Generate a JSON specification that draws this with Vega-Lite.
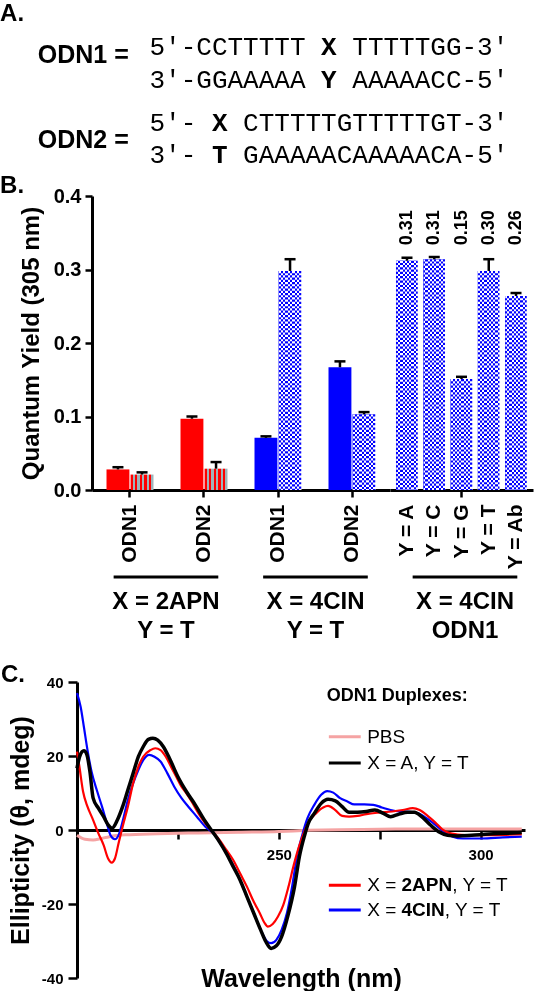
{
  "$schema": "https://vega.github.io/schema/vega-lite/v6.json",
  "background": "white",
  "padding": 0,
  "spacing": 0,
  "bounds": "flush",
  "resolve": {"scale": {"color": "independent"}},
  "config": {
    "view": {"stroke": null},
    "font": "Liberation Sans",
    "axis": {"grid": false, "domainColor": "#000", "tickColor": "#000", "labelColor": "#000", "titleColor": "#000", "labelFont": "Liberation Sans", "titleFont": "Liberation Sans", "labelFontWeight": "bold", "titleFontWeight": "bold"},
    "title": {"font": "Liberation Sans", "fontSize": 24, "fontWeight": "bold", "color": "#000", "anchor": "start", "frame": "group"}
  },
  "datasets": {
    "sequences": [
      {"duplex": "ODN1", "strand": "top", "column": 0, "text": "5′-CCTTTTT", "weight": "normal"},
      {"duplex": "ODN1", "strand": "top", "column": 11, "text": "X", "weight": "bold"},
      {"duplex": "ODN1", "strand": "top", "column": 13, "text": "TTTTTGG-3′", "weight": "normal"},
      {"duplex": "ODN1", "strand": "bottom", "column": 0, "text": "3′-GGAAAAA", "weight": "normal"},
      {"duplex": "ODN1", "strand": "bottom", "column": 11, "text": "Y", "weight": "bold"},
      {"duplex": "ODN1", "strand": "bottom", "column": 13, "text": "AAAAACC-5′", "weight": "normal"},
      {"duplex": "ODN2", "strand": "top", "column": 0, "text": "5′-", "weight": "normal"},
      {"duplex": "ODN2", "strand": "top", "column": 4, "text": "X", "weight": "bold"},
      {"duplex": "ODN2", "strand": "top", "column": 6, "text": "CTTTTTGTTTTTGT-3′", "weight": "normal"},
      {"duplex": "ODN2", "strand": "bottom", "column": 0, "text": "3′-", "weight": "normal"},
      {"duplex": "ODN2", "strand": "bottom", "column": 4, "text": "T", "weight": "bold"},
      {"duplex": "ODN2", "strand": "bottom", "column": 6, "text": "GAAAAACAAAAACA-5′", "weight": "normal"}
    ],
    "labels": [
      {"duplex": "ODN1", "label": "ODN1 ="},
      {"duplex": "ODN2", "label": "ODN2 ="}
    ],
    "panels": [
      {"panel": "A."},
      {"panel": "B."}
    ],
    "pairs": [
      {"construct": "2APN|ODN1", "probe": "2APN", "form": "single", "qy": 0.028, "upper": 0.031},
      {"construct": "2APN|ODN1", "probe": "2APN", "form": "duplex", "qy": 0.021, "upper": 0.024},
      {"construct": "2APN|ODN2", "probe": "2APN", "form": "single", "qy": 0.097, "upper": 0.100},
      {"construct": "2APN|ODN2", "probe": "2APN", "form": "duplex", "qy": 0.029, "upper": 0.038},
      {"construct": "4CIN|ODN1", "probe": "4CIN", "form": "single", "qy": 0.071, "upper": 0.073},
      {"construct": "4CIN|ODN1", "probe": "4CIN", "form": "duplex", "qy": 0.298, "upper": 0.314},
      {"construct": "4CIN|ODN2", "probe": "4CIN", "form": "single", "qy": 0.167, "upper": 0.175},
      {"construct": "4CIN|ODN2", "probe": "4CIN", "form": "duplex", "qy": 0.103, "upper": 0.106}
    ],
    "bases": [
      {"base": "A", "qy": 0.312, "upper": 0.316},
      {"base": "C", "qy": 0.314, "upper": 0.317},
      {"base": "G", "qy": 0.151, "upper": 0.154},
      {"base": "T", "qy": 0.298, "upper": 0.314},
      {"base": "Ab", "qy": 0.264, "upper": 0.268}
    ],
    "groups": [
      {"set": "2APN", "part": "rule"},
      {"set": "2APN", "part": "line1", "text": "X = 2APN"},
      {"set": "2APN", "part": "line2", "text": "Y = T"},
      {"set": "4CIN", "part": "rule"},
      {"set": "4CIN", "part": "line1", "text": "X = 4CIN"},
      {"set": "4CIN", "part": "line2", "text": "Y = T"},
      {"set": "4CIN-ODN1", "part": "rule"},
      {"set": "4CIN-ODN1", "part": "line1", "text": "X = 4CIN"},
      {"set": "4CIN-ODN1", "part": "line2", "text": "ODN1"}
    ],
    "spectra": [
      {"series": "PBS", "wavelength": 200, "ellipticity": -1.4},
      {"series": "PBS", "wavelength": 202, "ellipticity": -2.5},
      {"series": "PBS", "wavelength": 204, "ellipticity": -2.7},
      {"series": "PBS", "wavelength": 206, "ellipticity": -2.3},
      {"series": "PBS", "wavelength": 208, "ellipticity": -1.8},
      {"series": "PBS", "wavelength": 212, "ellipticity": -1.3},
      {"series": "PBS", "wavelength": 220, "ellipticity": -1.0},
      {"series": "PBS", "wavelength": 230, "ellipticity": -0.8},
      {"series": "PBS", "wavelength": 240, "ellipticity": -0.6},
      {"series": "PBS", "wavelength": 250, "ellipticity": -0.4},
      {"series": "PBS", "wavelength": 257, "ellipticity": -0.1},
      {"series": "PBS", "wavelength": 265, "ellipticity": 0.1},
      {"series": "PBS", "wavelength": 275, "ellipticity": 0.2},
      {"series": "PBS", "wavelength": 285, "ellipticity": 0.3},
      {"series": "PBS", "wavelength": 295, "ellipticity": 0.3},
      {"series": "PBS", "wavelength": 305, "ellipticity": 0.3},
      {"series": "PBS", "wavelength": 310.2, "ellipticity": 0.3},
      {"series": "4CIN", "wavelength": 200.0, "ellipticity": 37.0},
      {"series": "4CIN", "wavelength": 200.9, "ellipticity": 33.3},
      {"series": "4CIN", "wavelength": 201.7, "ellipticity": 27.9},
      {"series": "4CIN", "wavelength": 202.6, "ellipticity": 21.6},
      {"series": "4CIN", "wavelength": 203.6, "ellipticity": 15.8},
      {"series": "4CIN", "wavelength": 204.9, "ellipticity": 10.8},
      {"series": "4CIN", "wavelength": 206.2, "ellipticity": 6.3},
      {"series": "4CIN", "wavelength": 207.4, "ellipticity": 1.8},
      {"series": "4CIN", "wavelength": 208.3, "ellipticity": -1.4},
      {"series": "4CIN", "wavelength": 209.4, "ellipticity": -2.5},
      {"series": "4CIN", "wavelength": 210.4, "ellipticity": -1.1},
      {"series": "4CIN", "wavelength": 211.5, "ellipticity": 3.2},
      {"series": "4CIN", "wavelength": 212.6, "ellipticity": 8.1},
      {"series": "4CIN", "wavelength": 213.9, "ellipticity": 12.6},
      {"series": "4CIN", "wavelength": 215.2, "ellipticity": 16.2},
      {"series": "4CIN", "wavelength": 216.4, "ellipticity": 18.9},
      {"series": "4CIN", "wavelength": 217.9, "ellipticity": 20.3},
      {"series": "4CIN", "wavelength": 219.2, "ellipticity": 19.8},
      {"series": "4CIN", "wavelength": 220.7, "ellipticity": 18.5},
      {"series": "4CIN", "wavelength": 222.4, "ellipticity": 15.3},
      {"series": "4CIN", "wavelength": 224.1, "ellipticity": 11.7},
      {"series": "4CIN", "wavelength": 225.9, "ellipticity": 8.6},
      {"series": "4CIN", "wavelength": 227.6, "ellipticity": 6.3},
      {"series": "4CIN", "wavelength": 229.7, "ellipticity": 3.6},
      {"series": "4CIN", "wavelength": 231.8, "ellipticity": 0.9},
      {"series": "4CIN", "wavelength": 233.6, "ellipticity": -0.7},
      {"series": "4CIN", "wavelength": 235.3, "ellipticity": -3.2},
      {"series": "4CIN", "wavelength": 237.0, "ellipticity": -6.3},
      {"series": "4CIN", "wavelength": 238.7, "ellipticity": -9.5},
      {"series": "4CIN", "wavelength": 240.4, "ellipticity": -13.5},
      {"series": "4CIN", "wavelength": 242.1, "ellipticity": -18.0},
      {"series": "4CIN", "wavelength": 243.8, "ellipticity": -22.5},
      {"series": "4CIN", "wavelength": 245.5, "ellipticity": -27.0},
      {"series": "4CIN", "wavelength": 247.0, "ellipticity": -30.0},
      {"series": "4CIN", "wavelength": 248.1, "ellipticity": -30.6},
      {"series": "4CIN", "wavelength": 249.4, "ellipticity": -29.7},
      {"series": "4CIN", "wavelength": 250.7, "ellipticity": -27.0},
      {"series": "4CIN", "wavelength": 252.0, "ellipticity": -22.5},
      {"series": "4CIN", "wavelength": 253.3, "ellipticity": -15.3},
      {"series": "4CIN", "wavelength": 254.5, "ellipticity": -7.2},
      {"series": "4CIN", "wavelength": 255.8, "ellipticity": -1.4},
      {"series": "4CIN", "wavelength": 257.1, "ellipticity": 3.2},
      {"series": "4CIN", "wavelength": 258.8, "ellipticity": 6.8},
      {"series": "4CIN", "wavelength": 260.5, "ellipticity": 9.5},
      {"series": "4CIN", "wavelength": 262.0, "ellipticity": 10.5},
      {"series": "4CIN", "wavelength": 263.5, "ellipticity": 10.1},
      {"series": "4CIN", "wavelength": 265.2, "ellipticity": 8.6},
      {"series": "4CIN", "wavelength": 267.0, "ellipticity": 7.7},
      {"series": "4CIN", "wavelength": 268.7, "ellipticity": 6.9},
      {"series": "4CIN", "wavelength": 271.2, "ellipticity": 6.9},
      {"series": "4CIN", "wavelength": 273.4, "ellipticity": 6.8},
      {"series": "4CIN", "wavelength": 275.5, "ellipticity": 6.1},
      {"series": "4CIN", "wavelength": 277.7, "ellipticity": 5.4},
      {"series": "4CIN", "wavelength": 279.8, "ellipticity": 5.0},
      {"series": "4CIN", "wavelength": 282.4, "ellipticity": 4.9},
      {"series": "4CIN", "wavelength": 284.5, "ellipticity": 4.5},
      {"series": "4CIN", "wavelength": 286.6, "ellipticity": 3.2},
      {"series": "4CIN", "wavelength": 288.8, "ellipticity": 1.4},
      {"series": "4CIN", "wavelength": 290.9, "ellipticity": -0.5},
      {"series": "4CIN", "wavelength": 293.1, "ellipticity": -1.8},
      {"series": "4CIN", "wavelength": 295.6, "ellipticity": -2.3},
      {"series": "4CIN", "wavelength": 300.3, "ellipticity": -2.3},
      {"series": "4CIN", "wavelength": 305.5, "ellipticity": -2.0},
      {"series": "4CIN", "wavelength": 310.2, "ellipticity": -1.8},
      {"series": "2APN", "wavelength": 200.0, "ellipticity": 21.2},
      {"series": "2APN", "wavelength": 200.6, "ellipticity": 17.1},
      {"series": "2APN", "wavelength": 201.5, "ellipticity": 10.4},
      {"series": "2APN", "wavelength": 202.6, "ellipticity": 6.3},
      {"series": "2APN", "wavelength": 203.8, "ellipticity": 3.2},
      {"series": "2APN", "wavelength": 205.3, "ellipticity": -0.9},
      {"series": "2APN", "wavelength": 206.6, "ellipticity": -4.1},
      {"series": "2APN", "wavelength": 207.7, "ellipticity": -7.7},
      {"series": "2APN", "wavelength": 208.6, "ellipticity": -8.8},
      {"series": "2APN", "wavelength": 209.4, "ellipticity": -7.7},
      {"series": "2APN", "wavelength": 210.3, "ellipticity": -3.6},
      {"series": "2APN", "wavelength": 211.3, "ellipticity": 0.9},
      {"series": "2APN", "wavelength": 212.6, "ellipticity": 6.3},
      {"series": "2APN", "wavelength": 213.9, "ellipticity": 12.6},
      {"series": "2APN", "wavelength": 215.2, "ellipticity": 17.1},
      {"series": "2APN", "wavelength": 216.4, "ellipticity": 19.8},
      {"series": "2APN", "wavelength": 218.2, "ellipticity": 21.6},
      {"series": "2APN", "wavelength": 219.4, "ellipticity": 22.1},
      {"series": "2APN", "wavelength": 220.7, "ellipticity": 21.6},
      {"series": "2APN", "wavelength": 222.0, "ellipticity": 19.8},
      {"series": "2APN", "wavelength": 223.3, "ellipticity": 17.1},
      {"series": "2APN", "wavelength": 224.6, "ellipticity": 14.4},
      {"series": "2APN", "wavelength": 225.9, "ellipticity": 11.7},
      {"series": "2APN", "wavelength": 227.1, "ellipticity": 9.9},
      {"series": "2APN", "wavelength": 228.4, "ellipticity": 7.7},
      {"series": "2APN", "wavelength": 230.1, "ellipticity": 4.5},
      {"series": "2APN", "wavelength": 231.8, "ellipticity": 1.8},
      {"series": "2APN", "wavelength": 233.6, "ellipticity": -0.5},
      {"series": "2APN", "wavelength": 235.3, "ellipticity": -2.7},
      {"series": "2APN", "wavelength": 237.0, "ellipticity": -5.4},
      {"series": "2APN", "wavelength": 238.7, "ellipticity": -8.1},
      {"series": "2APN", "wavelength": 240.4, "ellipticity": -11.7},
      {"series": "2APN", "wavelength": 242.1, "ellipticity": -15.3},
      {"series": "2APN", "wavelength": 243.8, "ellipticity": -19.4},
      {"series": "2APN", "wavelength": 245.3, "ellipticity": -22.5},
      {"series": "2APN", "wavelength": 246.4, "ellipticity": -25.0},
      {"series": "2APN", "wavelength": 247.3, "ellipticity": -26.1},
      {"series": "2APN", "wavelength": 248.5, "ellipticity": -25.4},
      {"series": "2APN", "wavelength": 249.8, "ellipticity": -23.4},
      {"series": "2APN", "wavelength": 251.1, "ellipticity": -20.3},
      {"series": "2APN", "wavelength": 252.4, "ellipticity": -15.3},
      {"series": "2APN", "wavelength": 253.7, "ellipticity": -9.5},
      {"series": "2APN", "wavelength": 255.0, "ellipticity": -4.5},
      {"series": "2APN", "wavelength": 256.3, "ellipticity": -0.5},
      {"series": "2APN", "wavelength": 257.5, "ellipticity": 2.3},
      {"series": "2APN", "wavelength": 259.2, "ellipticity": 4.5},
      {"series": "2APN", "wavelength": 261.0, "ellipticity": 6.1},
      {"series": "2APN", "wavelength": 262.2, "ellipticity": 6.5},
      {"series": "2APN", "wavelength": 264.0, "ellipticity": 5.4},
      {"series": "2APN", "wavelength": 265.7, "ellipticity": 3.8},
      {"series": "2APN", "wavelength": 267.4, "ellipticity": 3.6},
      {"series": "2APN", "wavelength": 269.5, "ellipticity": 3.8},
      {"series": "2APN", "wavelength": 271.7, "ellipticity": 4.3},
      {"series": "2APN", "wavelength": 274.7, "ellipticity": 4.7},
      {"series": "2APN", "wavelength": 278.1, "ellipticity": 5.0},
      {"series": "2APN", "wavelength": 280.7, "ellipticity": 5.4},
      {"series": "2APN", "wavelength": 283.2, "ellipticity": 5.9},
      {"series": "2APN", "wavelength": 284.9, "ellipticity": 5.4},
      {"series": "2APN", "wavelength": 287.1, "ellipticity": 3.6},
      {"series": "2APN", "wavelength": 288.8, "ellipticity": 2.0},
      {"series": "2APN", "wavelength": 290.5, "ellipticity": 0.2},
      {"series": "2APN", "wavelength": 292.6, "ellipticity": -0.9},
      {"series": "2APN", "wavelength": 296.1, "ellipticity": -1.4},
      {"series": "2APN", "wavelength": 300.3, "ellipticity": -1.4},
      {"series": "2APN", "wavelength": 305.5, "ellipticity": -1.3},
      {"series": "2APN", "wavelength": 310.2, "ellipticity": -1.1},
      {"series": "A", "wavelength": 200.0, "ellipticity": 16.7},
      {"series": "A", "wavelength": 200.7, "ellipticity": 20.0},
      {"series": "A", "wavelength": 201.7, "ellipticity": 21.4},
      {"series": "A", "wavelength": 202.4, "ellipticity": 20.5},
      {"series": "A", "wavelength": 203.2, "ellipticity": 15.8},
      {"series": "A", "wavelength": 204.0, "ellipticity": 8.6},
      {"series": "A", "wavelength": 205.3, "ellipticity": 5.9},
      {"series": "A", "wavelength": 206.6, "ellipticity": 3.6},
      {"series": "A", "wavelength": 207.7, "ellipticity": 1.4},
      {"series": "A", "wavelength": 208.7, "ellipticity": 0.5},
      {"series": "A", "wavelength": 210.0, "ellipticity": 2.7},
      {"series": "A", "wavelength": 211.3, "ellipticity": 6.3},
      {"series": "A", "wavelength": 212.6, "ellipticity": 10.8},
      {"series": "A", "wavelength": 213.9, "ellipticity": 15.3},
      {"series": "A", "wavelength": 215.2, "ellipticity": 19.8},
      {"series": "A", "wavelength": 216.4, "ellipticity": 22.5},
      {"series": "A", "wavelength": 217.7, "ellipticity": 24.5},
      {"series": "A", "wavelength": 218.8, "ellipticity": 24.8},
      {"series": "A", "wavelength": 220.0, "ellipticity": 24.3},
      {"series": "A", "wavelength": 221.4, "ellipticity": 22.5},
      {"series": "A", "wavelength": 222.9, "ellipticity": 19.4},
      {"series": "A", "wavelength": 225.0, "ellipticity": 14.4},
      {"series": "A", "wavelength": 227.1, "ellipticity": 10.4},
      {"series": "A", "wavelength": 229.3, "ellipticity": 6.8},
      {"series": "A", "wavelength": 231.8, "ellipticity": 2.3},
      {"series": "A", "wavelength": 233.6, "ellipticity": -0.5},
      {"series": "A", "wavelength": 235.3, "ellipticity": -3.2},
      {"series": "A", "wavelength": 237.0, "ellipticity": -6.3},
      {"series": "A", "wavelength": 238.7, "ellipticity": -9.9},
      {"series": "A", "wavelength": 240.4, "ellipticity": -13.5},
      {"series": "A", "wavelength": 242.1, "ellipticity": -18.0},
      {"series": "A", "wavelength": 243.8, "ellipticity": -22.5},
      {"series": "A", "wavelength": 245.5, "ellipticity": -27.0},
      {"series": "A", "wavelength": 246.8, "ellipticity": -30.2},
      {"series": "A", "wavelength": 248.1, "ellipticity": -32.0},
      {"series": "A", "wavelength": 249.4, "ellipticity": -31.3},
      {"series": "A", "wavelength": 250.7, "ellipticity": -28.8},
      {"series": "A", "wavelength": 252.2, "ellipticity": -23.4},
      {"series": "A", "wavelength": 253.9, "ellipticity": -15.3},
      {"series": "A", "wavelength": 255.1, "ellipticity": -7.2},
      {"series": "A", "wavelength": 256.4, "ellipticity": -1.4},
      {"series": "A", "wavelength": 257.3, "ellipticity": 1.8},
      {"series": "A", "wavelength": 258.8, "ellipticity": 4.5},
      {"series": "A", "wavelength": 260.5, "ellipticity": 7.2},
      {"series": "A", "wavelength": 262.2, "ellipticity": 8.3},
      {"series": "A", "wavelength": 264.0, "ellipticity": 7.9},
      {"series": "A", "wavelength": 265.7, "ellipticity": 6.3},
      {"series": "A", "wavelength": 267.4, "ellipticity": 4.8},
      {"series": "A", "wavelength": 269.5, "ellipticity": 4.8},
      {"series": "A", "wavelength": 271.7, "ellipticity": 5.0},
      {"series": "A", "wavelength": 273.8, "ellipticity": 5.4},
      {"series": "A", "wavelength": 275.9, "ellipticity": 4.5},
      {"series": "A", "wavelength": 277.7, "ellipticity": 3.6},
      {"series": "A", "wavelength": 279.8, "ellipticity": 4.3},
      {"series": "A", "wavelength": 281.9, "ellipticity": 4.8},
      {"series": "A", "wavelength": 283.6, "ellipticity": 4.8},
      {"series": "A", "wavelength": 285.4, "ellipticity": 3.6},
      {"series": "A", "wavelength": 287.5, "ellipticity": 1.4},
      {"series": "A", "wavelength": 289.6, "ellipticity": -0.5},
      {"series": "A", "wavelength": 291.8, "ellipticity": -1.4},
      {"series": "A", "wavelength": 294.3, "ellipticity": -1.6},
      {"series": "A", "wavelength": 297.8, "ellipticity": -1.4},
      {"series": "A", "wavelength": 302.1, "ellipticity": -1.1},
      {"series": "A", "wavelength": 306.3, "ellipticity": -0.9},
      {"series": "A", "wavelength": 310.2, "ellipticity": -0.7}
    ]
  },
  "vconcat": [
    {
      "width": 462,
      "height": 196,
      "layer": [
        {
          "data": {"name": "sequences"},
          "transform": [{"filter": "datum.duplex === 'ODN1'"}],
          "encoding": {
            "x": {"field": "column", "type": "quantitative", "scale": {"domain": [-4.647, 24.968], "nice": false, "zero": false}, "axis": null},
            "y": {"field": "strand", "type": "nominal", "sort": null, "scale": {"type": "point", "domain": ["top", "bottom"], "range": [47, 80], "padding": 0}, "axis": null},
            "text": {"field": "text"}
          },
          "layer": [
            {"transform": [{"filter": "datum.weight === 'normal'"}], "mark": {"type": "text", "font": "Liberation Mono", "fontSize": 26, "align": "left", "baseline": "middle", "color": "#000"}},
            {"transform": [{"filter": "datum.weight === 'bold'"}], "mark": {"type": "text", "font": "Liberation Mono", "fontSize": 26, "fontWeight": "bold", "align": "left", "baseline": "middle", "color": "#000"}}
          ]
        },
        {
          "data": {"name": "sequences"},
          "transform": [{"filter": "datum.duplex === 'ODN2'"}],
          "encoding": {
            "x": {"field": "column", "type": "quantitative"},
            "y": {"field": "strand", "type": "nominal", "sort": null, "scale": {"type": "point", "domain": ["top", "bottom"], "range": [123, 155], "padding": 0}, "axis": null},
            "text": {"field": "text"}
          },
          "layer": [
            {"transform": [{"filter": "datum.weight === 'normal'"}], "mark": {"type": "text", "font": "Liberation Mono", "fontSize": 26, "align": "left", "baseline": "middle", "color": "#000"}},
            {"transform": [{"filter": "datum.weight === 'bold'"}], "mark": {"type": "text", "font": "Liberation Mono", "fontSize": 26, "fontWeight": "bold", "align": "left", "baseline": "middle", "color": "#000"}}
          ]
        },
        {
          "data": {"name": "labels"},
          "mark": {"type": "text", "fontSize": 25, "fontWeight": "bold", "align": "right", "baseline": "middle", "color": "#000"},
          "encoding": {
            "x": {"datum": -1.33},
            "y": {"field": "duplex", "type": "nominal", "sort": null, "scale": {"type": "point", "domain": ["ODN1", "ODN2"], "range": [55, 140], "padding": 0}, "axis": null},
            "text": {"field": "label"}
          }
        },
        {
          "data": {"name": "panels"},
          "mark": {"type": "text", "fontSize": 24, "fontWeight": "bold", "align": "left", "baseline": "alphabetic", "color": "#000"},
          "encoding": {
            "x": {"datum": -9.58},
            "y": {"field": "panel", "type": "nominal", "sort": null, "scale": {"type": "point", "domain": ["A.", "B."], "range": [21, 193], "padding": 0}, "axis": null},
            "text": {"field": "panel"}
          }
        }
      ],
      "resolve": {"scale": {"y": "independent"}}
    },
    {
      "width": 456,
      "height": 294,
      "layer": [
        {
          "data": {"name": "pairs"},
          "encoding": {
            "x": {
              "field": "construct", "type": "nominal", "sort": null,
              "scale": {"domain": ["2APN|ODN1", "2APN|ODN2", "4CIN|ODN1", "4CIN|ODN2"], "range": [15, 313], "paddingInner": 0.365, "paddingOuter": 0.196},
              "axis": {"orient": "bottom", "title": null, "labelExpr": "split(datum.value, '|')[1]", "labelAngle": 270, "labelFontSize": 21, "labelPadding": 7, "tickSize": 7, "tickWidth": 2.5, "domainWidth": 3}
            },
            "xOffset": {"field": "form", "type": "nominal", "sort": null, "scale": {"domain": ["single", "duplex"], "paddingInner": 0.05, "paddingOuter": 0}},
            "y": {
              "field": "qy", "type": "quantitative",
              "scale": {"domain": [0, 0.4], "nice": false},
              "axis": {"offset": -15, "values": [0, 0.1, 0.2, 0.3, 0.4], "format": ".1f", "labelFontSize": 20, "labelPadding": 4, "tickSize": 7, "tickWidth": 2.5, "domainWidth": 3, "title": "Quantum Yield (305 nm)", "titleFontSize": 24, "titleX": -61, "titleY": 147, "titleAngle": 270, "titleAlign": "center", "titleBaseline": "middle"}
            }
          },
          "layer": [
            {
              "transform": [{"filter": "datum.form === 'single'"}],
              "mark": {"type": "bar"},
              "encoding": {"color": {"field": "probe", "type": "nominal", "scale": {"domain": ["2APN", "4CIN"], "range": ["#ff0000", "#0000ff"]}, "legend": null}}
            },
            {
              "transform": [{"filter": "datum.form === 'duplex' && datum.probe === '2APN'"}],
              "mark": {"type": "bar", "fill": {"gradient": "linear", "x1": 0, "y1": 0, "x2": 1, "y2": 0, "stops": [
                {"offset": 0, "color": "#ff0000"}, {"offset": 0.1, "color": "#ff0000"},
                {"offset": 0.1, "color": "#9fb4ba"}, {"offset": 0.2, "color": "#9fb4ba"},
                {"offset": 0.2, "color": "#ff0000"}, {"offset": 0.3, "color": "#ff0000"},
                {"offset": 0.3, "color": "#9fb4ba"}, {"offset": 0.4, "color": "#9fb4ba"},
                {"offset": 0.4, "color": "#ff0000"}, {"offset": 0.5, "color": "#ff0000"},
                {"offset": 0.5, "color": "#9fb4ba"}, {"offset": 0.6, "color": "#9fb4ba"},
                {"offset": 0.6, "color": "#ff0000"}, {"offset": 0.7, "color": "#ff0000"},
                {"offset": 0.7, "color": "#9fb4ba"}, {"offset": 0.8, "color": "#9fb4ba"},
                {"offset": 0.8, "color": "#ff0000"}, {"offset": 0.9, "color": "#ff0000"},
                {"offset": 0.9, "color": "#9fb4ba"}, {"offset": 1, "color": "#9fb4ba"}
              ]}}
            },
            {
              "transform": [{"filter": "datum.form === 'duplex' && datum.probe === '4CIN'"}],
              "mark": {"type": "bar", "fill": "#ffffff"}
            },
            {
              "transform": [{"filter": "datum.form === 'duplex' && datum.probe === '4CIN'"}],
              "mark": {"type": "rule", "strokeWidth": 22.4, "strokeDash": [2.2, 2.2], "color": "#0000ff"},
              "encoding": {"y2": {"datum": 0}}
            },
            {
              "transform": [{"filter": "datum.form === 'duplex' && datum.probe === '4CIN'"}],
              "mark": {"type": "bar", "blend": "difference", "fill": {"gradient": "linear", "x1": 0, "y1": 0, "x2": 1, "y2": 0, "stops": [
                {"offset": 0, "color": "#ffff00"}, {"offset": 0.1, "color": "#ffff00"},
                {"offset": 0.1, "color": "#000000"}, {"offset": 0.2, "color": "#000000"},
                {"offset": 0.2, "color": "#ffff00"}, {"offset": 0.3, "color": "#ffff00"},
                {"offset": 0.3, "color": "#000000"}, {"offset": 0.4, "color": "#000000"},
                {"offset": 0.4, "color": "#ffff00"}, {"offset": 0.5, "color": "#ffff00"},
                {"offset": 0.5, "color": "#000000"}, {"offset": 0.6, "color": "#000000"},
                {"offset": 0.6, "color": "#ffff00"}, {"offset": 0.7, "color": "#ffff00"},
                {"offset": 0.7, "color": "#000000"}, {"offset": 0.8, "color": "#000000"},
                {"offset": 0.8, "color": "#ffff00"}, {"offset": 0.9, "color": "#ffff00"},
                {"offset": 0.9, "color": "#000000"}, {"offset": 1, "color": "#000000"}
              ]}}
            },
            {
              "mark": {"type": "rule", "strokeWidth": 2.5, "color": "#000"},
              "encoding": {"y2": {"field": "upper"}}
            },
            {
              "mark": {"type": "tick", "thickness": 2.5, "size": 11, "color": "#000", "opacity": 1},
              "encoding": {"y": {"field": "upper", "type": "quantitative"}}
            }
          ]
        },
        {
          "data": {"name": "bases"},
          "encoding": {
            "x": {
              "field": "base", "type": "nominal", "sort": null,
              "scale": {"domain": ["A", "C", "G", "T", "Ab"], "range": [313, 456], "paddingInner": 0.193, "paddingOuter": 0.22},
              "axis": {"orient": "bottom", "title": null, "labelExpr": "'Y = ' + datum.value", "labelAngle": 270, "labelFontSize": 21, "labelPadding": 7, "tickSize": 7, "tickWidth": 2.5, "domainWidth": 3, "tickOpacity": {"condition": {"test": "datum.value === 'G'", "value": 1}, "value": 0}}
            },
            "y": {"field": "qy", "type": "quantitative"}
          },
          "layer": [
            {"mark": {"type": "bar", "fill": "#ffffff"}},
            {
              "mark": {"type": "rule", "strokeWidth": 21.5, "strokeDash": [2.2, 2.2], "color": "#0000ff"},
              "encoding": {"y2": {"datum": 0}}
            },
            {
              "mark": {"type": "bar", "blend": "difference", "fill": {"gradient": "linear", "x1": 0, "y1": 0, "x2": 1, "y2": 0, "stops": [
                {"offset": 0, "color": "#ffff00"}, {"offset": 0.1, "color": "#ffff00"},
                {"offset": 0.1, "color": "#000000"}, {"offset": 0.2, "color": "#000000"},
                {"offset": 0.2, "color": "#ffff00"}, {"offset": 0.3, "color": "#ffff00"},
                {"offset": 0.3, "color": "#000000"}, {"offset": 0.4, "color": "#000000"},
                {"offset": 0.4, "color": "#ffff00"}, {"offset": 0.5, "color": "#ffff00"},
                {"offset": 0.5, "color": "#000000"}, {"offset": 0.6, "color": "#000000"},
                {"offset": 0.6, "color": "#ffff00"}, {"offset": 0.7, "color": "#ffff00"},
                {"offset": 0.7, "color": "#000000"}, {"offset": 0.8, "color": "#000000"},
                {"offset": 0.8, "color": "#ffff00"}, {"offset": 0.9, "color": "#ffff00"},
                {"offset": 0.9, "color": "#000000"}, {"offset": 1, "color": "#000000"}
              ]}}
            },
            {
              "mark": {"type": "rule", "strokeWidth": 2.5, "color": "#000"},
              "encoding": {"y2": {"field": "upper"}}
            },
            {
              "mark": {"type": "tick", "thickness": 2.5, "size": 11, "color": "#000", "opacity": 1},
              "encoding": {"y": {"field": "upper", "type": "quantitative"}}
            },
            {
              "mark": {"type": "text", "angle": 270, "align": "left", "baseline": "middle", "fontSize": 18, "fontWeight": "bold", "color": "#000"},
              "encoding": {"y": {"datum": 0.333}, "text": {"field": "qy", "type": "quantitative", "format": ".2f"}}
            }
          ]
        }
      ],
      "resolve": {"scale": {"x": "independent"}, "axis": {"x": "independent"}}
    },
    {
      "width": 456,
      "height": 192,
      "title": {"text": "C.", "orient": "bottom", "offset": 0, "dx": -76, "baseline": "alphabetic"},
      "data": {"name": "groups"},
      "layer": [
        {
          "transform": [{"filter": "datum.part === 'rule'"}],
          "mark": {"type": "tick", "orient": "horizontal", "thickness": 3, "color": "#000", "opacity": 1},
          "encoding": {
            "x": {"field": "set", "type": "nominal", "sort": null, "scale": {"domain": ["2APN", "4CIN", "4CIN-ODN1"], "paddingInner": 0.3, "paddingOuter": 0.175, "align": 0.7}, "axis": null},
            "y": {"field": "part", "type": "nominal", "scale": {"type": "point", "domain": ["rule"], "range": [87, 87], "padding": 0}, "axis": null}
          }
        },
        {
          "transform": [{"filter": "datum.part !== 'rule'"}],
          "mark": {"type": "text", "fontSize": 24, "fontWeight": "bold", "baseline": "middle", "color": "#000"},
          "encoding": {
            "x": {"field": "set", "type": "nominal", "sort": null},
            "y": {"field": "part", "type": "nominal", "sort": null, "scale": {"type": "point", "domain": ["line1", "line2"], "range": [111.5, 141], "padding": 0}, "axis": null},
            "text": {"field": "text"}
          }
        }
      ],
      "resolve": {"scale": {"y": "independent"}}
    },
    {
      "width": 448,
      "height": 296,
      "layer": [
        {
          "data": {"name": "spectra"},
          "transform": [{"filter": "datum.series === 'PBS'"}],
          "mark": {"type": "line", "strokeWidth": 3, "interpolate": "monotone"},
          "encoding": {
            "x": {
              "field": "wavelength", "type": "quantitative",
              "scale": {"domain": [200, 311], "nice": false, "zero": false},
              "axis": {"orient": "bottom", "offset": -148, "values": [225, 250, 275, 300], "labelExpr": "datum.value % 50 === 0 ? datum.label : ''", "labelFontSize": 15, "labelPadding": 8, "tickSize": 9, "tickWidth": 2.5, "domainWidth": 3, "title": "Wavelength (nm)", "titleFontSize": 25, "titleY": 156, "titleBaseline": "alphabetic"}
            },
            "y": {
              "field": "ellipticity", "type": "quantitative",
              "scale": {"domain": [-40, 40], "nice": false},
              "axis": {"values": [-40, -20, 0, 20, 40], "labelExpr": "'' + datum.value", "labelFontSize": 15, "labelPadding": 5, "tickSize": 9, "tickWidth": 2.5, "domainWidth": 3, "title": "Ellipticity (θ, mdeg)", "titleFontSize": 25, "titleX": -57, "titleY": 148, "titleAngle": 270, "titleAlign": "center", "titleBaseline": "middle"}
            },
            "color": {"field": "series", "type": "nominal", "scale": {"domain": ["PBS", "A", "2APN", "4CIN"], "range": ["#f5a3a3", "#000000", "#ff0000", "#0000ff"]}, "legend": null}
          }
        },
        {
          "data": {"name": "spectra"},
          "transform": [{"filter": "datum.series === '4CIN'"}],
          "mark": {"type": "line", "strokeWidth": 2.2, "interpolate": "monotone"},
          "encoding": {"x": {"field": "wavelength", "type": "quantitative"}, "y": {"field": "ellipticity", "type": "quantitative"}, "color": {"field": "series", "type": "nominal"}}
        },
        {
          "data": {"name": "spectra"},
          "transform": [{"filter": "datum.series === '2APN'"}],
          "mark": {"type": "line", "strokeWidth": 2.2, "interpolate": "monotone"},
          "encoding": {"x": {"field": "wavelength", "type": "quantitative"}, "y": {"field": "ellipticity", "type": "quantitative"}, "color": {"field": "series", "type": "nominal"}}
        },
        {
          "data": {"name": "spectra"},
          "transform": [{"filter": "datum.series === 'A'"}],
          "mark": {"type": "line", "strokeWidth": 3.5, "interpolate": "monotone"},
          "encoding": {"x": {"field": "wavelength", "type": "quantitative"}, "y": {"field": "ellipticity", "type": "quantitative"}, "color": {"field": "series", "type": "nominal"}}
        },
        {
          "data": {"values": [{"heading": "ODN1 Duplexes:"}]},
          "mark": {"type": "text", "align": "left", "baseline": "middle", "fontSize": 18, "fontWeight": "bold", "color": "#000"},
          "encoding": {"x": {"datum": 261.9}, "y": {"datum": 36.1}, "text": {"field": "heading"}}
        },
        {
          "data": {"values": [
            {"series": "PBS", "entry": 25.2},
            {"series": "A", "entry": 18.1},
            {"series": "2APN", "entry": -14.9},
            {"series": "4CIN", "entry": -21.6}
          ]},
          "mark": {"type": "rule", "strokeWidth": 3},
          "encoding": {"x": {"datum": 262.4}, "x2": {"datum": 270.3}, "y": {"field": "entry", "type": "quantitative"}, "color": {"field": "series", "type": "nominal"}}
        },
        {
          "data": {"values": [
            {"pre": "PBS", "entry": 25.2},
            {"pre": "X = A, Y = T", "entry": 18.1},
            {"pre": "X = ", "entry": -14.9},
            {"pre": "X = ", "entry": -21.6}
          ]},
          "mark": {"type": "text", "align": "left", "baseline": "middle", "fontSize": 19, "color": "#000"},
          "encoding": {"x": {"datum": 271.9}, "y": {"field": "entry", "type": "quantitative"}, "text": {"field": "pre"}}
        },
        {
          "data": {"values": [
            {"mid": "2APN", "entry": -14.9},
            {"mid": "4CIN", "entry": -21.6}
          ]},
          "mark": {"type": "text", "align": "left", "baseline": "middle", "fontSize": 19, "fontWeight": "bold", "dx": 34.3, "color": "#000"},
          "encoding": {"x": {"datum": 271.9}, "y": {"field": "entry", "type": "quantitative"}, "text": {"field": "mid"}}
        },
        {
          "data": {"values": [
            {"post": ", Y = T", "entry": -14.9}
          ]},
          "mark": {"type": "text", "align": "left", "baseline": "middle", "fontSize": 19, "dx": 85.0, "color": "#000"},
          "encoding": {"x": {"datum": 271.9}, "y": {"field": "entry", "type": "quantitative"}, "text": {"field": "post"}}
        },
        {
          "data": {"values": [
            {"post": ", Y = T", "entry": -21.6}
          ]},
          "mark": {"type": "text", "align": "left", "baseline": "middle", "fontSize": 19, "dx": 77.6, "color": "#000"},
          "encoding": {"x": {"datum": 271.9}, "y": {"field": "entry", "type": "quantitative"}, "text": {"field": "post"}}
        }
      ]
    }
  ]
}
